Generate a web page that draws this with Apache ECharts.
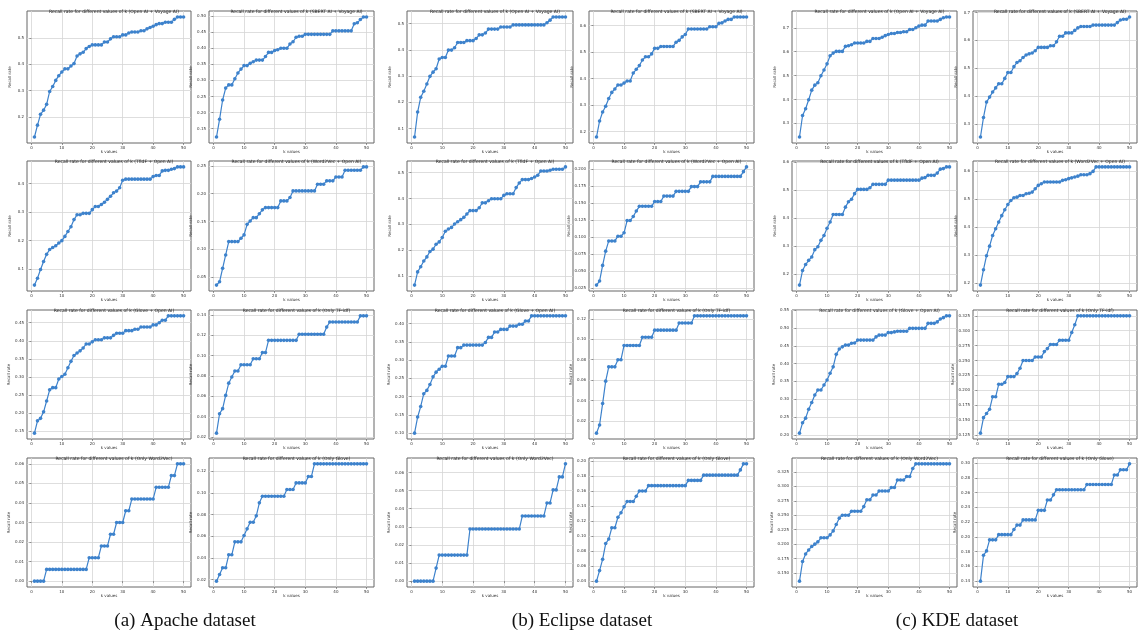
<!DOCTYPE html>
<html>
<head>
<meta charset="utf-8">
<title>Recall rate for different values of k</title>
<script src="https://cdn.jsdelivr.net/npm/echarts@6/dist/echarts.min.js"></script>
<style>
  html, body { margin: 0; padding: 0; background: #fff; }
  #main { width: 1139px; height: 632px; }
</style>
</head>
<body>
<div id="main"></div>
<script>
// k values shared by all panels
var kValues = [1,2,3,4,5,6,7,8,9,10,11,12,13,14,15,16,17,18,19,20,21,22,23,24,25,
               26,27,28,29,30,31,32,33,34,35,36,37,38,39,40,41,42,43,44,45,46,47,48,49,50];
var xTicks = ['0','10','20','30','40','50'];

// ---- Apache ----
var apacheOpenaiVoyage = [0.124,0.169,0.210,0.226,0.248,0.297,0.316,0.339,0.357,0.371,0.383,0.383,0.394,0.403,0.432,0.440,0.446,0.460,0.468,0.474,0.474,0.474,0.474,0.485,0.485,0.497,0.505,0.505,0.505,0.512,0.512,0.519,0.523,0.523,0.523,0.528,0.528,0.535,0.540,0.545,0.551,0.555,0.555,0.560,0.560,0.560,0.571,0.580,0.580,0.580];
var apacheSbertVoyage = [0.124,0.179,0.239,0.276,0.286,0.286,0.305,0.323,0.335,0.346,0.346,0.353,0.358,0.363,0.363,0.363,0.374,0.387,0.387,0.393,0.395,0.400,0.400,0.400,0.413,0.420,0.434,0.437,0.437,0.443,0.443,0.443,0.443,0.443,0.443,0.443,0.443,0.443,0.454,0.454,0.454,0.454,0.454,0.454,0.454,0.476,0.479,0.489,0.497,0.497];
var apacheTfidfOpenai = [0.044,0.068,0.099,0.127,0.152,0.169,0.176,0.182,0.192,0.200,0.215,0.232,0.249,0.274,0.291,0.291,0.296,0.296,0.296,0.309,0.320,0.320,0.327,0.335,0.345,0.356,0.368,0.374,0.386,0.412,0.416,0.416,0.416,0.416,0.416,0.416,0.416,0.416,0.416,0.425,0.429,0.429,0.445,0.447,0.447,0.451,0.453,0.459,0.459,0.459];
var apacheW2vOpenai = [0.036,0.042,0.066,0.090,0.114,0.114,0.114,0.114,0.120,0.126,0.145,0.151,0.157,0.157,0.164,0.171,0.175,0.175,0.175,0.175,0.175,0.187,0.187,0.187,0.193,0.205,0.205,0.205,0.205,0.205,0.205,0.205,0.205,0.217,0.217,0.217,0.223,0.223,0.223,0.230,0.230,0.230,0.242,0.242,0.242,0.242,0.242,0.242,0.248,0.248];
var apacheGloveOpenai = [0.144,0.178,0.185,0.203,0.233,0.264,0.270,0.270,0.294,0.301,0.307,0.325,0.343,0.359,0.366,0.372,0.380,0.391,0.391,0.397,0.403,0.403,0.403,0.408,0.408,0.408,0.415,0.421,0.421,0.421,0.428,0.428,0.428,0.432,0.432,0.438,0.438,0.438,0.438,0.444,0.444,0.450,0.457,0.457,0.469,0.469,0.469,0.469,0.469,0.469];
var apacheTfidf = [0.024,0.043,0.048,0.061,0.073,0.079,0.085,0.085,0.091,0.091,0.091,0.091,0.097,0.097,0.097,0.103,0.103,0.115,0.115,0.115,0.115,0.115,0.115,0.115,0.115,0.115,0.115,0.121,0.121,0.121,0.121,0.121,0.121,0.121,0.121,0.121,0.128,0.133,0.133,0.133,0.133,0.133,0.133,0.133,0.133,0.133,0.133,0.139,0.139,0.139];
var apacheW2v = [0,0,0,0,0.006,0.006,0.006,0.006,0.006,0.006,0.006,0.006,0.006,0.006,0.006,0.006,0.006,0.006,0.012,0.012,0.012,0.012,0.018,0.018,0.018,0.024,0.024,0.030,0.030,0.030,0.036,0.036,0.042,0.042,0.042,0.042,0.042,0.042,0.042,0.042,0.048,0.048,0.048,0.048,0.048,0.054,0.054,0.060,0.060,0.060];
var apacheGlove = [0.0185,0.0246,0.0308,0.0308,0.0428,0.0428,0.0548,0.0548,0.0548,0.0606,0.0668,0.0729,0.0729,0.0788,0.0908,0.0969,0.0969,0.0969,0.0969,0.0969,0.0969,0.0969,0.0969,0.1031,0.1031,0.1031,0.1092,0.1092,0.1092,0.1092,0.1151,0.1151,0.1268,0.1268,0.1268,0.1268,0.1268,0.1268,0.1268,0.1268,0.1268,0.1268,0.1268,0.1268,0.1268,0.1268,0.1268,0.1268,0.1268,0.1268];

// ---- Eclipse ----
var eclipseOpenaiVoyage = [0.068,0.163,0.219,0.242,0.270,0.299,0.315,0.328,0.365,0.371,0.371,0.399,0.399,0.408,0.428,0.428,0.428,0.435,0.435,0.435,0.443,0.457,0.457,0.464,0.479,0.479,0.479,0.479,0.487,0.487,0.487,0.487,0.495,0.495,0.495,0.495,0.495,0.495,0.495,0.495,0.495,0.495,0.495,0.503,0.513,0.525,0.525,0.525,0.525,0.525];
var eclipseSbertVoyage = [0.180,0.240,0.274,0.296,0.325,0.348,0.361,0.376,0.376,0.383,0.391,0.391,0.421,0.435,0.449,0.470,0.482,0.482,0.493,0.514,0.514,0.521,0.521,0.521,0.521,0.521,0.537,0.544,0.557,0.566,0.587,0.587,0.587,0.587,0.587,0.587,0.587,0.595,0.595,0.595,0.608,0.610,0.617,0.623,0.623,0.632,0.632,0.632,0.632,0.632];
var eclipseTfidfOpenai = [0.065,0.116,0.136,0.158,0.174,0.195,0.204,0.223,0.232,0.249,0.273,0.282,0.288,0.301,0.310,0.318,0.327,0.340,0.353,0.353,0.353,0.364,0.383,0.383,0.391,0.399,0.399,0.399,0.399,0.412,0.418,0.418,0.418,0.442,0.460,0.473,0.473,0.473,0.477,0.483,0.490,0.506,0.506,0.506,0.509,0.513,0.513,0.513,0.513,0.522];
var eclipseW2vOpenai = [0.029,0.035,0.058,0.079,0.094,0.094,0.094,0.101,0.101,0.106,0.124,0.124,0.130,0.138,0.145,0.145,0.145,0.145,0.145,0.152,0.152,0.152,0.160,0.160,0.160,0.160,0.167,0.167,0.167,0.167,0.167,0.174,0.174,0.174,0.181,0.181,0.181,0.181,0.189,0.189,0.189,0.189,0.189,0.189,0.189,0.189,0.189,0.189,0.196,0.203];
var eclipseGloveOpenai = [0.100,0.144,0.173,0.208,0.217,0.233,0.254,0.267,0.275,0.283,0.283,0.311,0.311,0.311,0.334,0.334,0.341,0.341,0.341,0.341,0.341,0.341,0.341,0.348,0.362,0.362,0.377,0.377,0.384,0.384,0.384,0.393,0.393,0.393,0.398,0.398,0.407,0.407,0.421,0.421,0.421,0.421,0.421,0.421,0.421,0.421,0.421,0.421,0.421,0.421];
var eclipseTfidf = [0.008,0.016,0.037,0.059,0.073,0.073,0.073,0.080,0.080,0.094,0.094,0.094,0.094,0.094,0.094,0.102,0.102,0.102,0.102,0.109,0.109,0.109,0.109,0.109,0.109,0.109,0.109,0.116,0.116,0.116,0.116,0.116,0.123,0.123,0.123,0.123,0.123,0.123,0.123,0.123,0.123,0.123,0.123,0.123,0.123,0.123,0.123,0.123,0.123,0.123];
var eclipseW2v = [0,0,0,0,0,0,0,0.0072,0.0144,0.0144,0.0144,0.0144,0.0144,0.0144,0.0144,0.0144,0.0144,0.0144,0.0288,0.0288,0.0288,0.0288,0.0288,0.0288,0.0288,0.0288,0.0288,0.0288,0.0288,0.0288,0.0288,0.0288,0.0288,0.0288,0.0288,0.036,0.036,0.036,0.036,0.036,0.036,0.036,0.036,0.0432,0.0432,0.0504,0.0504,0.0576,0.0576,0.0648];
var eclipseGlove = [0.040,0.054,0.069,0.090,0.096,0.111,0.111,0.125,0.131,0.139,0.146,0.146,0.146,0.153,0.160,0.160,0.160,0.167,0.167,0.167,0.167,0.167,0.167,0.167,0.167,0.167,0.167,0.167,0.167,0.167,0.174,0.174,0.174,0.174,0.174,0.181,0.181,0.181,0.181,0.181,0.181,0.181,0.181,0.181,0.181,0.181,0.181,0.188,0.196,0.196];

// ---- KDE ----
var kdeOpenaiVoyage = [0.243,0.333,0.361,0.399,0.439,0.460,0.470,0.499,0.523,0.549,0.583,0.594,0.601,0.601,0.601,0.622,0.625,0.629,0.636,0.636,0.636,0.636,0.643,0.643,0.655,0.655,0.655,0.660,0.667,0.672,0.676,0.676,0.680,0.680,0.683,0.683,0.693,0.693,0.700,0.707,0.711,0.711,0.728,0.728,0.728,0.728,0.735,0.742,0.745,0.745];
var kdeSbertVoyage = [0.254,0.324,0.379,0.397,0.415,0.430,0.445,0.445,0.464,0.485,0.485,0.506,0.521,0.527,0.539,0.548,0.552,0.555,0.563,0.575,0.575,0.575,0.575,0.581,0.581,0.595,0.615,0.615,0.627,0.627,0.627,0.636,0.645,0.650,0.650,0.650,0.650,0.655,0.655,0.655,0.655,0.655,0.655,0.655,0.655,0.664,0.673,0.676,0.676,0.684];
var kdeTfidfOpenai = [0.162,0.214,0.235,0.250,0.262,0.288,0.298,0.321,0.338,0.364,0.386,0.413,0.413,0.413,0.413,0.439,0.458,0.467,0.487,0.502,0.502,0.502,0.502,0.508,0.520,0.520,0.520,0.520,0.520,0.535,0.535,0.535,0.535,0.535,0.535,0.535,0.535,0.535,0.535,0.535,0.542,0.544,0.552,0.552,0.552,0.560,0.574,0.576,0.582,0.582];
var kdeW2vOpenai = [0.194,0.249,0.299,0.333,0.371,0.395,0.419,0.442,0.463,0.482,0.496,0.506,0.508,0.514,0.514,0.520,0.522,0.526,0.538,0.550,0.556,0.562,0.562,0.562,0.562,0.562,0.562,0.568,0.570,0.574,0.577,0.580,0.583,0.588,0.588,0.588,0.592,0.600,0.616,0.616,0.616,0.616,0.616,0.616,0.616,0.616,0.616,0.616,0.616,0.616];
var kdeGloveOpenai = [0.205,0.234,0.247,0.272,0.291,0.312,0.326,0.326,0.340,0.354,0.373,0.391,0.426,0.441,0.447,0.452,0.452,0.457,0.458,0.466,0.466,0.466,0.466,0.466,0.466,0.475,0.480,0.480,0.480,0.487,0.487,0.489,0.491,0.491,0.491,0.491,0.499,0.499,0.499,0.499,0.499,0.499,0.513,0.513,0.513,0.517,0.525,0.529,0.534,0.534];
var kdeTfidf = [0.128,0.154,0.161,0.168,0.189,0.189,0.210,0.210,0.213,0.223,0.223,0.223,0.228,0.237,0.250,0.250,0.250,0.250,0.256,0.256,0.256,0.265,0.270,0.277,0.277,0.277,0.284,0.284,0.284,0.284,0.297,0.310,0.325,0.325,0.325,0.325,0.325,0.325,0.325,0.325,0.325,0.325,0.325,0.325,0.325,0.325,0.325,0.325,0.325,0.325];
var kdeW2v = [0.136,0.170,0.183,0.190,0.196,0.200,0.204,0.211,0.211,0.211,0.216,0.223,0.234,0.245,0.250,0.250,0.250,0.257,0.257,0.257,0.257,0.265,0.277,0.277,0.285,0.285,0.292,0.292,0.292,0.292,0.298,0.298,0.311,0.311,0.311,0.317,0.317,0.331,0.339,0.339,0.339,0.339,0.339,0.339,0.339,0.339,0.339,0.339,0.339,0.339];
var kdeGlove = [0.140,0.175,0.181,0.196,0.196,0.196,0.203,0.203,0.203,0.203,0.203,0.210,0.216,0.216,0.223,0.223,0.223,0.223,0.223,0.236,0.236,0.236,0.250,0.250,0.257,0.264,0.264,0.264,0.264,0.264,0.264,0.264,0.264,0.264,0.264,0.271,0.271,0.271,0.271,0.271,0.271,0.271,0.271,0.271,0.284,0.284,0.291,0.291,0.291,0.299];

// y tick labels per panel
var yTicksApache = [
  ['0.2','0.3','0.4','0.5'],
  ['0.15','0.20','0.25','0.30','0.35','0.40','0.45','0.50'],
  ['0.1','0.2','0.3','0.4'],
  ['0.05','0.10','0.15','0.20','0.25'],
  ['0.15','0.20','0.25','0.30','0.35','0.40','0.45'],
  ['0.02','0.04','0.06','0.08','0.10','0.12','0.14'],
  ['0.00','0.01','0.02','0.03','0.04','0.05','0.06'],
  ['0.02','0.04','0.06','0.08','0.10','0.12']
];
var yTicksEclipse = [
  ['0.1','0.2','0.3','0.4','0.5'],
  ['0.2','0.3','0.4','0.5','0.6'],
  ['0.1','0.2','0.3','0.4','0.5'],
  ['0.025','0.050','0.075','0.100','0.125','0.150','0.175','0.200'],
  ['0.10','0.15','0.20','0.25','0.30','0.35','0.40'],
  ['0.02','0.04','0.06','0.08','0.10','0.12'],
  ['0.00','0.01','0.02','0.03','0.04','0.05','0.06'],
  ['0.04','0.06','0.08','0.10','0.12','0.14','0.16','0.18','0.20']
];
var yTicksKde = [
  ['0.3','0.4','0.5','0.6','0.7'],
  ['0.3','0.4','0.5','0.6','0.7'],
  ['0.2','0.3','0.4','0.5','0.6'],
  ['0.2','0.3','0.4','0.5','0.6'],
  ['0.20','0.25','0.30','0.35','0.40','0.45','0.50','0.55'],
  ['0.125','0.150','0.175','0.200','0.225','0.250','0.275','0.300','0.325'],
  ['0.150','0.175','0.200','0.225','0.250','0.275','0.300','0.325'],
  ['0.14','0.16','0.18','0.20','0.22','0.24','0.26','0.28','0.30']
];

var methodNames = ['Open AI + Voyage AI','SBERT AI + Voyage AI','TfIdF + Open AI','Word2Vec + Open AI',
                   'Glove + Open AI','Only TF-idf','Only Word2Vec','Only Glove'];
var captions = ['(a) Apache dataset','(b) Eclipse dataset','(c) KDE dataset'];

var datasets = [
  { series: [apacheOpenaiVoyage, apacheSbertVoyage, apacheTfidfOpenai, apacheW2vOpenai,
             apacheGloveOpenai, apacheTfidf, apacheW2v, apacheGlove], ticks: yTicksApache },
  { series: [eclipseOpenaiVoyage, eclipseSbertVoyage, eclipseTfidfOpenai, eclipseW2vOpenai,
             eclipseGloveOpenai, eclipseTfidf, eclipseW2v, eclipseGlove], ticks: yTicksEclipse },
  { series: [kdeOpenaiVoyage, kdeSbertVoyage, kdeTfidfOpenai, kdeW2vOpenai,
             kdeGloveOpenai, kdeTfidf, kdeW2v, kdeGlove], ticks: yTicksKde }
];

// panel placement (plot areas, px)
var colLeft = [27, 209, 407, 589, 792, 973];
var colWidth = [164, 165, 166, 165, 165, 164];
var rowTop = [11, 161, 310, 458];
var rowHeight = [132, 130, 129, 129];
var captionX = [180, 577, 952];

var myChart = echarts.init(document.getElementById('main'), null, { renderer: 'canvas' });
var font = 'DejaVu Sans';
var lineColor = '#3d82cc';

var grids = [], xAxes = [], yAxes = [], series = [], titles = [];

function labelFormatter(list) {
  return function (v) {
    for (var i = 0; i < list.length; i++) {
      if (Math.abs(parseFloat(list[i]) - v) < 1e-9) return list[i];
    }
    return '';
  };
}

var idx = 0;
for (var d = 0; d < 3; d++) {
  for (var m = 0; m < 8; m++) {
    var row = Math.floor(m / 2), col = d * 2 + (m % 2);
    var L = colLeft[col], T = rowTop[row], W = colWidth[col], H = rowHeight[row];
    var ticks = datasets[d].ticks[m];
    var vals = datasets[d].series[m];

    grids.push({ left: L, top: T, width: W, height: H, show: true,
                 borderColor: '#666', borderWidth: 1, backgroundColor: '#fff' });

    titles.push({ text: 'Recall rate for different values of k (' + methodNames[m] + ')',
                  left: L + W / 2, top: T - 7, textAlign: 'center',
                  textStyle: { fontSize: 4.5, fontWeight: 'normal', color: '#222', fontFamily: font } });

    xAxes.push({ type: 'value', gridIndex: idx, min: -1.45, max: 52.45,
                 name: 'k values', nameLocation: 'middle', nameGap: 7,
                 nameTextStyle: { fontSize: 4, color: '#333', fontFamily: font },
                 axisLine: { show: false },
                 axisTick: { show: true, length: 2, customValues: xTicks.map(Number), lineStyle: { color: '#555', width: 0.6 } },
                 axisLabel: { customValues: xTicks.map(Number), fontSize: 4, margin: 2.5, color: '#333', fontFamily: font },
                 splitLine: { show: true, lineStyle: { color: '#d6d6d6', width: 0.8 } } });

    yAxes.push({ type: 'value', gridIndex: idx,
                 min: function (v) { return v.min - 0.05 * (v.max - v.min); },
                 max: function (v) { return v.max + 0.05 * (v.max - v.min); },
                 name: 'Recall rate', nameLocation: 'middle', nameGap: 15,
                 nameTextStyle: { fontSize: 4, color: '#333', fontFamily: font },
                 axisLine: { show: false },
                 axisTick: { show: true, length: 2, customValues: ticks.map(Number), lineStyle: { color: '#555', width: 0.6 } },
                 axisLabel: { customValues: ticks.map(Number), fontSize: 4, margin: 3, color: '#333', fontFamily: font,
                              formatter: labelFormatter(ticks) },
                 splitLine: { show: true, lineStyle: { color: '#d6d6d6', width: 0.8 } } });

    series.push({ type: 'line', xAxisIndex: idx, yAxisIndex: idx,
                  data: kValues.map(function (k, j) { return [k, vals[j]]; }),
                  symbol: 'circle', symbolSize: 3.6, showSymbol: true,
                  lineStyle: { color: lineColor, width: 1.2 },
                  itemStyle: { color: lineColor } });
    idx++;
  }
}

for (var c = 0; c < 3; c++) {
  titles.push({ text: captions[c], left: captionX[c], top: 607, textAlign: 'center',
                textStyle: { fontSize: 19, fontWeight: 'normal', color: '#111', fontFamily: 'Liberation Serif' } });
}

var option = {
  backgroundColor: '#fff',
  animation: false,
  title: titles,
  grid: grids,
  xAxis: xAxes,
  yAxis: yAxes,
  series: series
};
myChart.setOption(option);
</script>
</body>
</html>
